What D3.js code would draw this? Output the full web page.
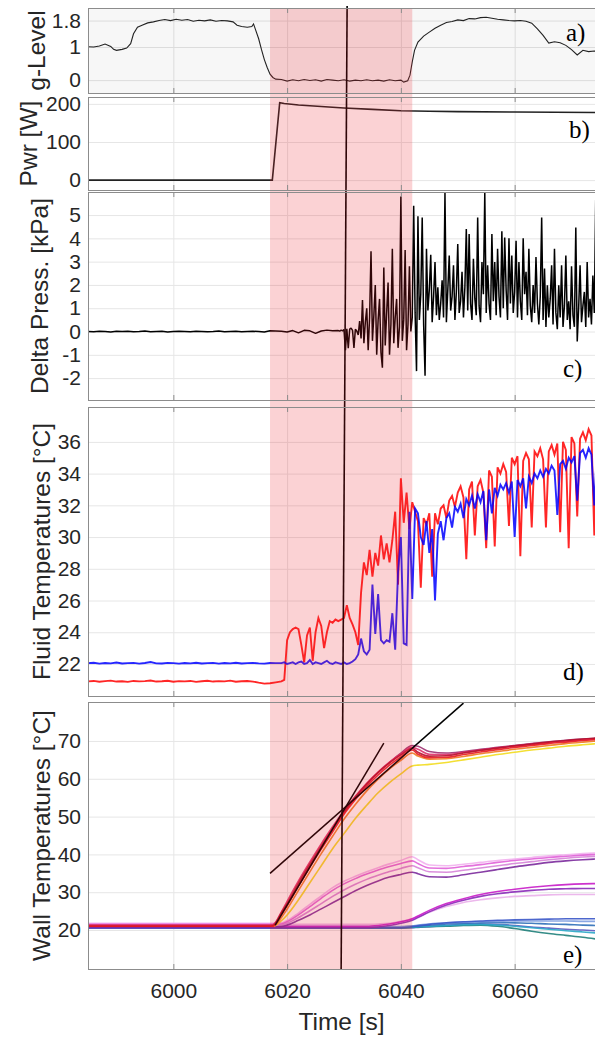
<!DOCTYPE html>
<html lang="en">
<head>
<meta charset="UTF-8">
<title>Parabola test run: g-level, power, pressure and temperatures</title>
<style>
  body { margin: 0; background: white; }
  svg text { font-family: "Liberation Sans", Arial, sans-serif; fill: #262626; }
  .tag { font-family: "Liberation Serif", "Times New Roman", serif; fill: #000; }
</style>
<script src="https://d3js.org/d3.v7.min.js"></script>
</head>
<body>
<div id="chart"></div>
<script>
// ---- data ----
const timeTicks = [6000, 6020, 6040, 6060];
const heatingWindow = [6017, 6042];          // shaded red band [s]
const markerTime = [6030.55, 6029.5];         // vertical marker, top / bottom [s]

// a) g-level, [time, g]
const gLevel = [
  [5985, 1.01], [5986, 1.00], [5987, 1.03], [5988, 1.09], [5989, 1.02], [5989.5, 0.93], [5990, 0.90],
  [5991, 0.93], [5991.8, 0.97], [5992.5, 1.10], [5993, 1.40], [5993.7, 1.60], [5994.5, 1.66],
  [5995.5, 1.73], [5996.5, 1.76], [5997.5, 1.80], [5998.5, 1.83], [5999.5, 1.80], [6000.5, 1.84],
  [6001.5, 1.81], [6002.5, 1.83], [6003.5, 1.78], [6004.5, 1.81], [6005.5, 1.79], [6006.5, 1.82],
  [6007.5, 1.78], [6008.5, 1.80], [6009.5, 1.79], [6010.5, 1.76], [6011.2, 1.66], [6012, 1.62],
  [6013, 1.60], [6013.8, 1.62], [6014.1, 1.70], [6014.4, 1.55], [6015, 1.25], [6015.5, 0.92],
  [6016, 0.62], [6016.5, 0.38], [6017, 0.18], [6017.5, 0.08], [6018, 0.03], [6019, 0.02],
  [6020, -0.03], [6021, 0.01], [6022, -0.02], [6023, 0.02], [6024, -0.01], [6025, 0.01],
  [6026, -0.03], [6027, 0.02], [6028, 0.00], [6029, -0.02], [6030, 0.01], [6031, -0.03],
  [6032, 0.00], [6033, -0.02], [6034, 0.01], [6035, -0.02], [6036, 0.00], [6037, -0.03],
  [6038, 0.01], [6039, -0.02], [6040, 0.00], [6040.5, -0.06], [6041.2, -0.02], [6041.6, 0.15],
  [6042, 0.55], [6042.4, 0.90], [6043, 1.15], [6044, 1.33], [6045, 1.45], [6046, 1.57],
  [6047, 1.66], [6048, 1.74], [6049, 1.77], [6050, 1.82], [6051, 1.80], [6052, 1.86],
  [6053, 1.85], [6054, 1.89], [6055, 1.90], [6056, 1.87], [6057, 1.84], [6058, 1.82],
  [6059, 1.80], [6060, 1.79], [6061, 1.80], [6062, 1.78], [6063, 1.72], [6064, 1.55],
  [6065, 1.35], [6066, 1.12], [6067, 1.16], [6068, 1.13], [6069, 1.05], [6070, 0.92],
  [6071, 0.76], [6072, 0.90], [6073, 0.86], [6074, 0.88], [6074.5, 0.86]
];
const gTicks = [0, 1, 1.8];

// b) heater power
const powerTime  = [5985, 6017.4, 6018.7, 6019.5, 6022, 6026, 6030, 6035, 6040, 6045, 6050, 6060, 6074.5];
const powerWatts = [0, 0, 203, 201, 197, 193, 189, 185.5, 182, 180.5, 179.5, 178.5, 177.5];
const powerTicks = [0, 100, 200];

// c) delta pressure: quiet part sampled every 1 s, burst part every 0.25 s
const pressQuietStart = 5985, pressQuietStep = 1;
const pressQuiet = [0.00, -0.01, 0.01, 0.00, -0.02, 0.01, 0.00, 0.01, -0.01, 0.00, 0.02, -0.01, 0.00, 0.01,
  -0.02, 0.00, 0.01, 0.00, -0.01, 0.01, 0.00, -0.01, 0.00, 0.02, -0.01, 0.00, 0.01, -0.01, 0.00, 0.01,
  0.00, -0.02, 0.03, 0.02, 0.01, -0.02, 0.04, -0.06, 0.05, 0.03, -0.08, 0.02, 0.06, 0.03];
const pressBurstStart = 6029, pressBurstStep = 0.25;
const pressBurst = [
  0.04, 0.02, 0.06, 0.03, 0.08, -0.80, 0.12, -0.72, 0.10, 0.15,
  0.05, -0.70, 0.10, 0.02, -0.15, 0.45, -0.30, 1.35, -0.50, 0.40,
  1.00, -0.80, 0.60, 3.45, -0.40, 0.70, 2.00, -1.00, 0.50, 1.40,
  -0.90, -1.55, 2.75, -0.60, 0.80, 2.10, -1.00, 0.30, 3.55, -0.50,
  0.60, 1.40, -0.70, 0.20, 5.80, -0.40, 0.50, 3.50, -0.80, 0.30,
  2.80, 0.00, 0.60, 5.40, 0.80, -1.70, 4.95, 0.50, 1.60, 4.90,
  0.30, -1.90, 3.55, 0.90, 1.80, 3.30, 0.40, 1.50, 2.98, 0.70,
  1.90, 0.50, 1.20, 2.20, 0.60, 5.95, 0.40, 1.80, 3.26, 0.90,
  1.50, 2.84, 0.50, 1.70, 3.76, 0.80, 1.30, 2.56, 0.60, 1.90,
  4.40, 0.90, 4.19, 1.20, 0.50, 3.12, 1.40, 0.70, 4.89, 1.10,
  0.40, 2.98, 1.60, 5.96, 0.80, 2.84, 1.20, 0.50, 4.19, 1.30,
  2.98, 0.70, 3.55, 1.50, 0.60, 4.30, 1.00, 4.04, 1.80, 0.50,
  4.00, 1.20, 3.26, 0.80, 1.70, 3.90, 0.60, 2.98, 1.30, 0.50,
  4.00, 1.60, 2.56, 0.70, 3.55, 1.10, 0.40, 2.00, 0.80, 3.20,
  1.20, 0.30, 1.50, 4.89, 0.50, 2.70, 0.20, 1.99, 0.60, 1.40,
  2.84, 0.30, 3.55, 0.80, 0.10, 1.99, 0.60, 2.84, 0.20, 1.10,
  3.26, 0.50, 1.30, 0.10, 2.80, 0.70, 0.20, 4.47, -0.43, 1.00,
  2.84, 0.40, 1.10, 1.70, 0.20, 2.98, 0.60, 1.40, 0.30, 2.40,
  0.80, 5.67, 0.90
];
const pressTicks = [-2, -1, 0, 1, 2, 3, 4, 5];

// d) fluid temperatures: before heating every 1 s, afterwards every 0.5 s
const fluidQuietStart = 5985, fluidQuietStep = 1;
const fluidRedQuiet = [20.90, 20.93, 20.88, 20.92, 20.95, 20.89, 20.91, 20.87, 20.93, 20.90, 20.92, 20.96,
  20.89, 20.91, 20.94, 20.88, 20.92, 20.90, 20.93, 20.87, 20.91, 20.94, 20.89, 20.92, 20.90, 20.95,
  20.88, 20.91, 20.93, 20.89, 20.82, 20.76, 20.78, 20.84];
const fluidBlueQuiet = [22.05, 22.08, 22.02, 22.06, 22.04, 22.09, 22.03, 22.05, 22.07, 22.02, 22.06, 22.12,
  22.04, 22.03, 22.07, 22.05, 22.02, 22.06, 22.04, 22.08, 22.03, 22.05, 22.07, 22.02, 22.06, 22.04,
  22.08, 22.03, 22.05, 22.07, 22.04, 22.02, 22.06, 22.05];
const fluidBusyStart = 6019, fluidBusyStep = 0.5;
const fluidRed = [
  20.9, 21.0, 23.5, 24.0, 24.2, 24.3, 24.2, 23.2, 22.1, 23.8,
  24.3, 22.2, 24.0, 24.9, 24.4, 23.0, 24.0, 24.7, 24.6, 24.8,
  24.7, 24.8, 24.9, 25.7, 24.9, 24.5, 24.0, 23.2, 26.5, 28.4,
  27.6, 29.2, 27.5, 29.0, 28.2, 30.1, 28.6, 29.6, 28.4, 29.8,
  31.6, 27.0, 33.7, 30.9, 32.8, 30.5, 32.2, 31.6, 31.0, 26.8,
  31.2, 30.8, 31.5, 27.5, 31.5, 30.8, 31.8, 32.0, 31.2, 32.3,
  32.6, 31.9, 32.8, 33.2, 32.5, 28.6, 33.0, 33.5, 30.1, 33.2,
  33.6, 32.8, 29.3, 34.2, 33.8, 29.4, 34.4, 34.0, 34.6, 34.1,
  30.7, 35.0, 34.6, 35.1, 28.8, 34.8, 35.3, 34.9, 30.6, 35.4,
  35.1, 35.6, 34.9, 30.6, 35.4, 35.8, 35.2, 35.9, 30.3, 36.0,
  35.5, 29.3, 36.3, 35.9, 31.3, 36.2, 36.6, 36.1, 36.8, 36.4,
  30.1, 36.5
];
const fluidBlue = [
  22.05, 22.1, 22.0, 22.05, 22.1, 22.0, 22.1, 22.15, 22.0, 22.05,
  22.25, 22.0, 22.1, 22.05, 22.0, 22.1, 22.2, 22.05, 22.0, 22.1,
  22.05, 22.0, 22.1, 22.0, 22.05, 22.15, 22.3, 22.6, 23.6, 22.8,
  22.6, 22.9, 27.0, 23.9, 26.4, 23.5, 23.3, 23.5, 23.4, 25.2,
  22.9, 27.8, 30.0, 23.3, 23.2, 31.6, 26.1, 31.8, 31.5, 30.0,
  29.5, 31.0, 29.0, 30.5, 26.0, 30.2, 31.0, 29.8, 31.2, 31.5,
  30.6, 31.9, 31.6, 32.1, 31.2, 32.4, 32.0, 32.6, 31.8, 32.7,
  32.2, 32.9, 29.8, 33.0, 31.5, 33.1, 32.6, 33.3, 33.0, 33.4,
  32.8, 33.5, 30.0, 33.6, 33.2, 33.7, 31.8, 33.8, 33.4, 34.0,
  33.7, 34.2, 33.8, 34.3, 34.0, 34.5, 34.2, 31.4, 34.6, 34.8,
  34.3, 35.0, 34.7, 35.1, 32.3, 35.3, 35.5, 35.0, 35.6, 35.2,
  32.0, 35.8
];
const fluidTicks = [22, 24, 26, 28, 30, 32, 34, 36];

// e) wall temperatures, all thermocouples on a common time base
const wallTime = [5985, 6017, 6017.5, 6019, 6020, 6022, 6024, 6026, 6028, 6030, 6032, 6034, 6036, 6038,
  6040, 6042, 6043, 6045, 6048, 6051, 6054, 6057, 6060, 6063, 6066, 6069, 6072, 6074.5];
// far from the heater (blue group)
const wallBlue1  = [20.6, 20.6, 20.6, 20.6, 20.6, 20.6, 20.6, 20.6, 20.6, 20.6, 20.6, 20.6, 20.6, 20.6, 20.6,
  20.9, 21.1, 21.5, 21.9, 22.2, 22.4, 22.6, 22.7, 22.8, 22.9, 23.0, 23.0, 23.0];
const wallBlue2  = [20.8, 20.8, 20.8, 20.8, 20.8, 20.8, 20.8, 20.8, 20.8, 20.8, 20.8, 20.8, 20.8, 20.8, 20.8,
  21.0, 21.1, 21.3, 21.6, 21.8, 21.9, 22.0, 21.9, 21.8, 21.6, 21.5, 21.3, 21.2];
const wallBlue3  = [20.5, 20.5, 20.5, 20.5, 20.5, 20.5, 20.5, 20.5, 20.5, 20.5, 20.5, 20.5, 20.5, 20.5, 20.5,
  20.6, 20.7, 20.9, 21.2, 21.5, 21.6, 21.5, 21.2, 20.8, 20.5, 20.2, 20.0, 19.8];
const wallBlue4  = [20.7, 20.7, 20.7, 20.7, 20.7, 20.7, 20.7, 20.7, 20.7, 20.7, 20.7, 20.7, 20.7, 20.7, 20.7,
  20.8, 20.9, 21.0, 21.2, 21.4, 21.5, 21.3, 21.0, 20.6, 20.2, 19.8, 19.5, 19.2];
const wallBlue5  = [20.6, 20.6, 20.6, 20.6, 20.6, 20.6, 20.6, 20.6, 20.6, 20.6, 20.6, 20.6, 20.6, 20.6, 20.6,
  20.7, 20.8, 20.9, 21.0, 21.2, 21.3, 21.0, 20.4, 19.7, 19.1, 18.6, 18.1, 17.6];
const wallBlue6  = [20.9, 20.9, 20.9, 20.9, 20.9, 20.9, 20.9, 20.9, 20.9, 20.9, 20.9, 20.9, 20.9, 20.9, 20.9,
  21.1, 21.3, 21.6, 21.9, 22.1, 22.2, 22.3, 22.4, 22.4, 22.4, 22.4, 22.3, 22.3];
// downstream, late rise (magenta group)
const wallLate1  = [21.0, 21.0, 21.0, 21.0, 21.0, 21.0, 21.0, 21.0, 21.0, 21.0, 21.0, 21.0,
  21.2, 21.6, 22.2, 23.0, 23.7, 25.2, 27.0, 28.3, 29.4, 30.2, 30.8, 31.3, 31.7, 32.0, 32.2, 32.3];
const wallLate2  = [20.6, 20.6, 20.6, 20.6, 20.6, 20.6, 20.6, 20.6, 20.6, 20.6, 20.6, 20.6,
  20.8, 21.2, 21.8, 22.6, 23.3, 24.8, 26.6, 27.9, 28.9, 29.6, 30.1, 30.5, 30.8, 30.9, 31.0, 31.0];
const wallLate3  = [21.5, 21.5, 21.5, 21.5, 21.5, 21.5, 21.5, 21.5, 21.5, 21.5, 21.5, 21.5,
  21.6, 21.8, 22.3, 23.0, 23.5, 24.7, 26.2, 27.3, 28.0, 28.5, 28.9, 29.1, 29.3, 29.4, 29.4, 29.4];
// near the heater (pink / purple group)
const wallNear1  = [21.8, 21.8, 21.8, 21.9, 22.5, 24.5, 26.8, 29.0, 31.2, 32.9, 34.2, 35.4, 36.5, 37.5,
  38.4, 39.4, 38.6, 37.2, 37.0, 37.4, 37.9, 38.4, 38.8, 39.2, 39.6, 39.9, 40.2, 40.4];
const wallNear2  = [21.5, 21.5, 21.5, 21.6, 22.2, 24.0, 26.2, 28.4, 30.5, 32.2, 33.6, 34.8, 35.9, 36.8,
  37.6, 38.3, 37.6, 36.4, 36.3, 36.8, 37.3, 37.9, 38.4, 38.8, 39.2, 39.5, 39.8, 40.0];
const wallNear3  = [21.2, 21.2, 21.2, 21.3, 21.8, 23.3, 25.1, 27.0, 28.9, 30.6, 32.1, 33.4, 34.5, 35.5,
  36.3, 37.0, 36.5, 35.4, 35.3, 35.8, 36.4, 37.0, 37.6, 38.1, 38.6, 39.0, 39.3, 39.5];
const wallNear4  = [20.8, 20.8, 20.8, 20.9, 21.3, 22.6, 24.0, 25.6, 27.2, 28.8, 30.4, 31.8, 33.0, 34.0,
  34.7, 35.3, 34.9, 34.1, 34.0, 34.6, 35.3, 36.0, 36.7, 37.3, 37.9, 38.3, 38.6, 38.8];
// on the heater (red / yellow group)
const wallHot1   = [21.0, 21.0, 21.1, 24.6, 27.0, 32.4, 37.4, 42.2, 46.8, 51.3, 55.2, 58.7, 61.7, 64.2,
  66.3, 68.0, 67.0, 66.0, 66.1, 66.8, 67.5, 68.1, 68.7, 69.2, 69.7, 70.1, 70.5, 70.8];
const wallHot2   = [21.0, 21.0, 21.0, 24.0, 26.5, 31.6, 36.6, 41.4, 46.0, 50.6, 54.5, 58.0, 61.0, 63.6,
  65.8, 67.6, 66.5, 65.6, 65.7, 66.4, 67.1, 67.7, 68.3, 68.8, 69.3, 69.7, 70.1, 70.4];
const wallHot3   = [21.2, 21.2, 21.3, 24.2, 26.6, 31.8, 36.8, 41.8, 46.5, 51.0, 55.0, 58.5, 61.6, 64.3,
  66.8, 68.8, 68.6, 67.2, 66.8, 67.2, 67.8, 68.3, 68.8, 69.3, 69.8, 70.2, 70.5, 70.7];
const wallHot4   = [21.3, 21.3, 21.4, 24.8, 27.6, 33.0, 38.0, 42.8, 47.3, 51.6, 55.4, 58.8, 61.8, 64.4,
  66.6, 68.3, 67.8, 66.5, 66.4, 67.0, 67.6, 68.2, 68.7, 69.1, 69.6, 70.0, 70.3, 70.6];
const wallHot5   = [21.0, 21.0, 21.0, 23.3, 25.5, 30.5, 35.4, 40.2, 44.8, 49.3, 53.2, 56.8, 59.9, 62.6,
  64.9, 66.8, 66.0, 65.2, 65.3, 65.9, 66.6, 67.2, 67.8, 68.3, 68.8, 69.3, 69.7, 70.0];
const wallHot6   = [21.0, 21.0, 21.0, 22.5, 24.0, 28.0, 32.5, 37.0, 41.5, 45.5, 49.5, 53.0, 56.3, 59.0,
  61.3, 63.4, 63.6, 63.8, 64.3, 65.0, 65.7, 66.4, 67.0, 67.6, 68.1, 68.6, 69.0, 69.3];
const wallTicks = [20, 30, 40, 50, 60, 70];

// tangent lines drawn on the wall temperatures, [time, °C]
const steepTangent   = [[6017.9, 21.3], [6037.0, 69.4]];
const shallowTangent = [[6017.0, 35.0], [6051.0, 80.0]];

// ---- layout ----
const W = 595, H = 1038;
const left = 88, right = 596;

const svg = d3.select("#chart").append("svg")
    .attr("width", W).attr("height", H);

const x = d3.scaleLinear().domain([5985, 6074.3]).range([left, right]);

const panels = [
  { id: "a", top: 8,   bottom: 93,  domain: [-0.39, 2.18], ticks: gTicks,     label: "g-Level",                 labelX: 45, tag: "a)", tagX: 566, tagY: 41,  bg: "#f7f7f7" },
  { id: "b", top: 97,  bottom: 190, domain: [-26, 218],    ticks: powerTicks, label: "Pwr [W]",                 labelX: 37, tag: "b)", tagX: 569, tagY: 138, bg: "#fff" },
  { id: "c", top: 192, bottom: 400, domain: [-2.94, 5.99], ticks: pressTicks, label: "Delta Press. [kPa]",      labelX: 48, tag: "c)", tagX: 563, tagY: 377, bg: "#fff" },
  { id: "d", top: 407, bottom: 696, domain: [19.98, 38.2], ticks: fluidTicks, label: "Fluid Temperatures [°C]", labelX: 50, tag: "d)", tagX: 563, tagY: 680, bg: "#fff" },
  { id: "e", top: 702, bottom: 969, domain: [9.7, 80.3],   ticks: wallTicks,  label: "Wall Temperatures [°C]",  labelX: 50, tag: "e)", tagX: 563, tagY: 963, bg: "#fff" }
];
panels.forEach(p => {
  p.y = d3.scaleLinear().domain(p.domain).range([p.bottom, p.top]);
});
const byId = Object.fromEntries(panels.map(p => [p.id, p]));

const defs = svg.append("defs");
const under = svg.append("g");   // backgrounds, grid, data
const over = svg.append("g");    // band, frames, labels

panels.forEach(p => {
  defs.append("clipPath").attr("id", "clip-" + p.id)
    .append("rect").attr("x", left).attr("y", p.top)
    .attr("width", right - left).attr("height", p.bottom - p.top);

  under.append("rect")
    .attr("x", left).attr("y", p.top)
    .attr("width", right - left).attr("height", p.bottom - p.top)
    .attr("fill", p.bg);

  // horizontal grid + y tick labels
  const yAxis = under.append("g")
    .attr("transform", `translate(${left},0)`)
    .call(d3.axisLeft(p.y).tickValues(p.ticks).tickSize(-(right - left))
      .tickPadding(7).tickFormat(d => String(d)));
  yAxis.select(".domain").remove();
  yAxis.selectAll(".tick line").attr("stroke", p.id === "a" ? "#dcdcdc" : "#e6e6e6");
  yAxis.selectAll(".tick text").attr("font-size", 21).attr("fill", "#262626")
    .style("font-family", '"Liberation Sans", Arial, sans-serif');

  // vertical grid
  const xGrid = under.append("g")
    .attr("transform", `translate(0,${p.bottom})`)
    .call(d3.axisBottom(x).tickValues(timeTicks).tickSize(-(p.bottom - p.top)).tickFormat(""));
  xGrid.select(".domain").remove();
  xGrid.selectAll(".tick line").attr("stroke", p.id === "a" ? "#dcdcdc" : "#e6e6e6");

  p.g = under.append("g").attr("clip-path", `url(#clip-${p.id})`);
});

const lineOf = p => d3.line().x(d => x(d[0])).y(d => p.y(d[1]));

// a) g-level
byId.a.g.append("path").datum(gLevel)
  .attr("fill", "none").attr("stroke", "#222").attr("stroke-width", 1.1)
  .attr("d", lineOf(byId.a));

// b) power
byId.b.g.append("path").datum(powerTime.map((t, i) => [t, powerWatts[i]]))
  .attr("fill", "none").attr("stroke", "#222").attr("stroke-width", 1.6)
  .attr("d", lineOf(byId.b));

// c) pressure
const pressPoints = pressQuiet.map((v, i) => [pressQuietStart + i * pressQuietStep, v])
  .concat(pressBurst.map((v, i) => [pressBurstStart + i * pressBurstStep, v]));
byId.c.g.append("path").datum(pressPoints)
  .attr("fill", "none").attr("stroke", "#000").attr("stroke-width", 1.5)
  .attr("stroke-linejoin", "bevel")
  .attr("d", lineOf(byId.c));

// d) fluid temperatures
const fluidSeries = (quiet, busy) =>
  quiet.map((v, i) => [fluidQuietStart + i * fluidQuietStep, v])
    .concat(busy.map((v, i) => [fluidBusyStart + i * fluidBusyStep, v]));
byId.d.g.append("path").datum(fluidSeries(fluidRedQuiet, fluidRed))
  .attr("fill", "none").attr("stroke", "#ff0000").attr("stroke-width", 1.9).attr("opacity", 0.85)
  .attr("d", lineOf(byId.d));
byId.d.g.append("path").datum(fluidSeries(fluidBlueQuiet, fluidBlue))
  .attr("fill", "none").attr("stroke", "#0000ff").attr("stroke-width", 1.9).attr("opacity", 0.85)
  .attr("d", lineOf(byId.d));

// e) wall temperatures (far sensors first, hot ones on top)
const wallSeries = [wallBlue3, wallBlue5, wallBlue4, wallBlue2, wallBlue6, wallBlue1,
  wallLate3, wallLate2, wallLate1,
  wallNear1, wallNear2, wallNear3, wallNear4,
  wallHot6, wallHot5, wallHot3, wallHot4, wallHot1, wallHot2];
const wallColors = ["#5a5ac0", "#1f7f7a", "#2aa8c8", "#2f6fb8", "#7d9de0", "#3a56c8",
  "#eab0ea", "#8a2ab8", "#c81cc8",
  "#f2b0ee", "#e060d8", "#d783d8", "#7b2a9c",
  "#f2dc1e", "#f07a20", "#9e3070", "#e0306a", "#b5122e", "#e8171f"];
const wallLine = d3.line().curve(d3.curveMonotoneX)
  .x(d => x(d[0])).y(d => byId.e.y(d[1]));
wallSeries.forEach((vals, i) => {
  byId.e.g.append("path").datum(wallTime.map((t, k) => [t, vals[k]]))
    .attr("fill", "none").attr("stroke", wallColors[i]).attr("stroke-width", 1.6)
    .attr("opacity", 0.9).attr("d", wallLine);
});
[steepTangent, shallowTangent].forEach(seg => {
  byId.e.g.append("path").datum(seg)
    .attr("fill", "none").attr("stroke", "#000").attr("stroke-width", 1.5)
    .attr("d", lineOf(byId.e));
});

// vertical marker across all panels
under.append("line")
  .attr("x1", x(markerTime[0])).attr("y1", 6)
  .attr("x2", x(markerTime[1])).attr("y2", byId.e.bottom)
  .attr("stroke", "#000").attr("stroke-width", 1.6);

// heating window band, translucent over everything
over.append("rect")
  .attr("x", x(heatingWindow[0])).attr("y", byId.a.top)
  .attr("width", x(heatingWindow[1]) - x(heatingWindow[0]))
  .attr("height", byId.e.bottom - byId.a.top)
  .attr("fill", "rgb(235,30,40)").attr("opacity", 0.2);

// frames, small inward ticks, labels
panels.forEach(p => {
  over.append("rect")
    .attr("x", left + 0.5).attr("y", p.top + 0.5)
    .attr("width", right - left).attr("height", p.bottom - p.top)
    .attr("fill", "none").attr("stroke", "#8c8c8c").attr("stroke-width", 1);

  const topTicks = over.append("g").attr("transform", `translate(0,${p.top})`)
    .call(d3.axisTop(x).tickValues(timeTicks).tickSize(-5).tickFormat(""));
  topTicks.select(".domain").remove();
  topTicks.selectAll(".tick line").attr("stroke", "#8c8c8c");
  const botTicks = over.append("g").attr("transform", `translate(0,${p.bottom})`)
    .call(d3.axisBottom(x).tickValues(timeTicks).tickSize(-5).tickFormat(""));
  botTicks.select(".domain").remove();
  botTicks.selectAll(".tick line").attr("stroke", "#8c8c8c");

  over.append("text")
    .attr("transform", `translate(${p.labelX},${(p.top + p.bottom) / 2}) rotate(-90)`)
    .attr("text-anchor", "middle").attr("font-size", 24.5)
    .text(p.label);

  over.append("text").attr("class", "tag")
    .attr("x", p.tagX).attr("y", p.tagY).attr("font-size", 25)
    .text(p.tag);
});

// time axis labels under the last panel
const xAxis = over.append("g")
  .attr("transform", `translate(0,${byId.e.bottom})`)
  .call(d3.axisBottom(x).tickValues(timeTicks).tickSize(0).tickPadding(14).tickFormat(d3.format("d")));
xAxis.select(".domain").remove();
xAxis.selectAll(".tick text").attr("font-size", 21).attr("fill", "#262626")
  .style("font-family", '"Liberation Sans", Arial, sans-serif');

over.append("text")
  .attr("x", (left + 595) / 2).attr("y", 1030)
  .attr("text-anchor", "middle").attr("font-size", 24.5)
  .text("Time [s]");
</script>
</body>
</html>
